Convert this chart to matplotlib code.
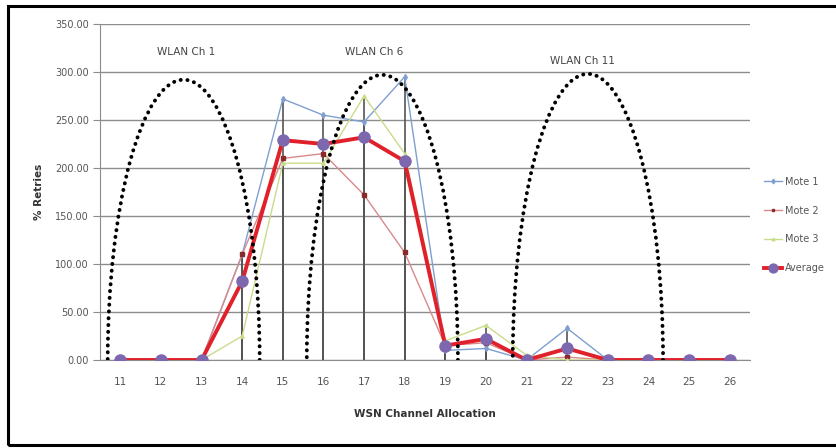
import matplotlib
matplotlib.use("Agg")
import matplotlib.pyplot as plt
from matplotlib.patches import Arc, Rectangle

channels = [11, 12, 13, 14, 15, 16, 17, 18, 19, 20, 21, 22, 23, 24, 25, 26]
mote1 = [0, 0, 0, 110, 272, 255, 248, 295, 10, 12, 0, 33, 0, 0, 0, 0]
mote2 = [0, 0, 0, 110, 210, 215, 172, 112, 15, 18, 0, 3, 0, 0, 0, 0]
mote3 = [0, 0, 0, 25, 205, 205, 275, 215, 20, 36, 5, 0, 0, 0, 0, 0]
average = [0, 0, 0, 82, 229, 225, 232, 207, 15, 22, 0, 12, 0, 0, 0, 0]

wlan_labels = ["WLAN Ch 1", "WLAN Ch 6", "WLAN Ch 11"]
wlan_centers = [12.56, 17.45, 22.51]
wlan_halfwidths = [1.87, 1.86, 1.85]
wlan_peaks = [292, 297, 298]
wlan_label_x = [12.63, 17.26, 22.38]
wlan_label_y = [321, 321, 311]

yticks = [0, 50, 100, 150, 200, 250, 300, 350]

fig = plt.figure(figsize=(8.37, 4.48), dpi=100)
W, H = 837, 448
ax = fig.add_axes([100 / W, 1 - 360 / H, 650 / W, 336 / H])

# outer frame
fig.patches.append(Rectangle((8 / W, 1 - 445 / H), 1.0, (445 - 6) / H,
                             transform=fig.transFigure, fill=False,
                             edgecolor="black", linewidth=2.2, clip_on=False))

ax.set_xlim(10.5, 26.5)
ax.set_ylim(0, 350)
ax.set_yticks(yticks)
ax.set_yticklabels([f"{v:.2f}" for v in yticks])
ax.set_xticks(channels)
ax.set_xticklabels([str(c) for c in channels])
ax.yaxis.grid(True, color="#8c8c8c", linewidth=1.0)
ax.set_axisbelow(True)
for s in ["top", "right"]:
    ax.spines[s].set_visible(False)
ax.spines["left"].set_color("#8c8c8c")
ax.spines["bottom"].set_color("#8c8c8c")
ax.tick_params(axis="y", length=5, color="#8c8c8c", labelsize=7, labelcolor="#555555", pad=3)
ax.tick_params(axis="x", length=0, labelsize=7.5, labelcolor="#555555", pad=12)

# drop lines
for series in [mote1, mote2, mote3]:
    ax.vlines(channels, 0, series, color="#555555", linewidth=1.2, zorder=2)

ax.plot(channels, mote1, color="#7f9fd0", linewidth=1.0, marker="d", markersize=3,
        label="Mote 1", zorder=3)
ax.plot(channels, mote2, color="#d88a8a", linewidth=1.0, marker="s", markersize=2.5,
        markerfacecolor="#8b2a2a", markeredgecolor="#8b2a2a", label="Mote 2", zorder=3)
ax.plot(channels, mote3, color="#c9dc8a", linewidth=1.0, marker="^", markersize=2.5,
        label="Mote 3", zorder=3)
ax.plot(channels, average, color="#e0202a", linewidth=2.8, marker="o", markersize=8,
        markerfacecolor="#7d68b0", markeredgecolor="#7d68b0", label="Average", zorder=4)

for c, hw, pk in zip(wlan_centers, wlan_halfwidths, wlan_peaks):
    arc = Arc((c, 0), 2 * hw, 2 * pk, theta1=0, theta2=180, color="black",
              linewidth=2.8, linestyle=(0, (0.05, 1.7)), zorder=5)
    arc.set_capstyle("round")
    ax.add_patch(arc)

for lab, x, y in zip(wlan_labels, wlan_label_x, wlan_label_y):
    ax.text(x, y, lab, ha="center", va="center", fontsize=7.5, color="#444444")

ax.set_xlabel("WSN Channel Allocation", fontsize=7.5, fontweight="bold", color="#333333", labelpad=16)
ax.set_ylabel("% Retries", fontsize=7.5, fontweight="bold", color="#333333", labelpad=8)

leg = ax.legend(loc="center left", bbox_to_anchor=(755 / W, 1 - 225 / H),
                bbox_transform=fig.transFigure, frameon=False, fontsize=7,
                labelspacing=1.95, handlelength=1.9, handletextpad=0.3, markerscale=0.8)
for t in leg.get_texts():
    t.set_color("#555555")

fig.savefig("out.png", dpi=100)
